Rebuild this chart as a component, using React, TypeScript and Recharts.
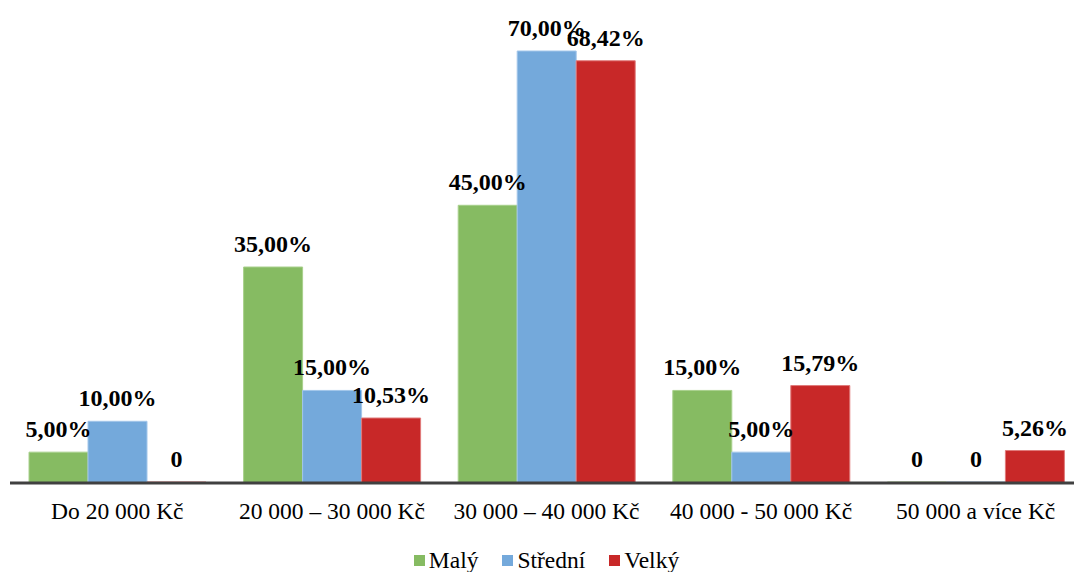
import { Bar, BarChart, LabelList, Legend, XAxis, YAxis } from "recharts";

const categories = ["Do 20 000 Kč", "20 000 – 30 000 Kč", "30 000 – 40 000 Kč", "40 000 - 50 000 Kč", "50 000 a více Kč"];
const maly = [5, 35, 45, 15, 0];
const stredni = [10, 15, 70, 5, 0];
const velky = [0, 10.53, 68.42, 15.79, 5.26];

const series = [
  { key: "maly", name: "Malý", color: "#86BB62", edge: "#A8D08C" },
  { key: "stredni", name: "Střední", color: "#74A9DB", edge: "#A2C6EA" },
  { key: "velky", name: "Velký", color: "#C82828", edge: "#E07A7A" },
];

const serif = "'Liberation Serif', 'DejaVu Serif', serif";

const formatPct = (v: number) => (v === 0 ? "0" : v.toFixed(2).replace(".", ",") + "%");

function LegendContent() {
  return (
    <div style={{ display: "flex", justifyContent: "center", alignItems: "center", fontFamily: serif, fontSize: 23.5, lineHeight: "26px", color: "#000" }}>
      {series.map((s) => (
        <div key={s.key} style={{ display: "flex", alignItems: "center", margin: "0 12px" }}>
          <span style={{ width: 11, height: 11, background: s.color, marginRight: 4, display: "inline-block" }} />
          <span>{s.name}</span>
        </div>
      ))}
    </div>
  );
}

export default function App() {
  const data = categories.map((name, i) => ({
    name,
    maly: maly[i],
    stredni: stredni[i],
    velky: velky[i],
  }));

  return (
    <div style={{ position: "fixed", left: 0, top: 0, width: 1074, height: 572, overflow: "hidden", background: "#fff" }}>
      <BarChart
        width={1090}
        height={572}
        data={data}
        margin={{ top: 51, right: 7, left: 10, bottom: 0 }}
        barCategoryGap={19}
        barGap={0}
      >
        <YAxis hide domain={[0, 70]} />
        <XAxis
          dataKey="name"
          height={59}
          axisLine={{ stroke: "#404040", strokeWidth: 3 }}
          tickLine={false}
          tickSize={0}
          tickMargin={19}
          interval={0}
          tick={{ fill: "#000", fontSize: 23.5, fontFamily: serif }}
        />
        <Legend verticalAlign="bottom" height={30} wrapperStyle={{ top: 547, bottom: "auto" }} content={<LegendContent />} />
        {series.map((s) => (
          <Bar
            key={s.key}
            dataKey={s.key}
            name={s.name}
            fill={s.color}
            stroke={s.edge}
            strokeWidth={1}
            minPointSize={1}
            isAnimationActive={false}
          >
            <LabelList
              dataKey={s.key}
              position="top"
              offset={15}
              formatter={(v: number) => formatPct(v)}
              style={{ fill: "#000", fontSize: 24, fontWeight: 700, fontFamily: serif }}
            />
          </Bar>
        ))}
      </BarChart>
    </div>
  );
}
